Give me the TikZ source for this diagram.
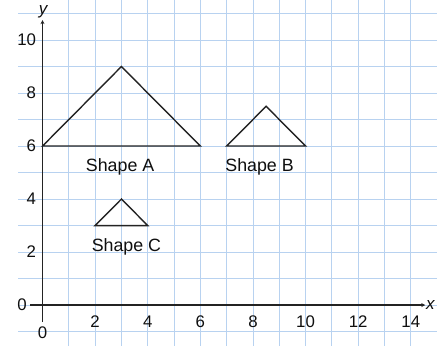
\documentclass[tikz,border=0pt]{standalone}
\usepackage{fontspec}
\setmainfont{Liberation Sans}
\usetikzlibrary{arrows.meta}
\definecolor{gridblue}{RGB}{184,210,240}
\definecolor{axisgray}{RGB}{35,35,35}
\definecolor{textblack}{RGB}{15,15,15}
\begin{document}
\begin{tikzpicture}[x=26.3bp,y=26.5bp,
  gridline/.style={draw=gridblue,line width=0.9bp},
  axisline/.style={draw=axisgray,line width=1.7bp,-{Stealth[length=4bp,width=4bp]}},
  shapeline/.style={draw=axisgray,line width=1.4bp,line join=miter},
  ticklab/.style={font=\fontsize{16.8bp}{18bp}\selectfont,text=textblack,inner sep=0pt},
  shapelab/.style={font=\fontsize{17.8bp}{20bp}\selectfont,text=textblack,inner sep=0pt,anchor=base},
  axlab/.style={font=\fontsize{17bp}{19bp}\selectfont\itshape,text=textblack,inner sep=0pt}]
\useasboundingbox[fill=white] (-1.616,-1.509) rectangle (15.30,11.51);
% grid
\foreach \i in {1,...,14} {\draw[gridline] (\i,-1.6) -- (\i,11.6);}
\foreach \j in {-1,...,11} {\draw[gridline] (-0.93,\j) -- (15,\j);}
% axes
\coordinate (xs) at (-0.48,0);
\coordinate (xe) at (14.55,0);
\coordinate (ys) at (0,-0.64);
\coordinate (ye) at (0,10.75);
\draw[axisline] (xs) -- (xe);
\draw[axisline] (ys) -- (ye);
\node[axlab] (xl) at (14.74,0.02) {x};
\node[axlab] (yl) at (0.02,11.05) {y};
% tick labels
\foreach \v in {2,4,...,14} {\node[ticklab] (xt\v) at (\v,-0.64) {\v};}
\node[ticklab] (xt0) at (0,-1.06) {0};
\foreach \v in {2,4,...,10} {\node[ticklab,anchor=east] (yt\v) at (-0.24,\v) {\v};}
\node[ticklab,anchor=east] (yt0) at (-0.59,0) {0};
% shapes
\coordinate (a1) at (0,6); \coordinate (a2) at (3,9); \coordinate (a3) at (6,6);
\coordinate (b1) at (7,6); \coordinate (b2) at (8.5,7.5); \coordinate (b3) at (10,6);
\coordinate (c1) at (2,3); \coordinate (c2) at (3,4); \coordinate (c3) at (4,3);
\draw[shapeline] (a1) -- (a2) -- (a3) -- cycle;
\draw[shapeline] (b1) -- (b2) -- (b3) -- cycle;
\draw[shapeline] (c1) -- (c2) -- (c3) -- cycle;
\node[shapelab] (la) at (2.95,5.03) {Shape A};
\node[shapelab] (lb) at (8.25,5.03) {Shape B};
\node[shapelab] (lc) at (3.19,2.01) {Shape C};
\end{tikzpicture}
\end{document}
